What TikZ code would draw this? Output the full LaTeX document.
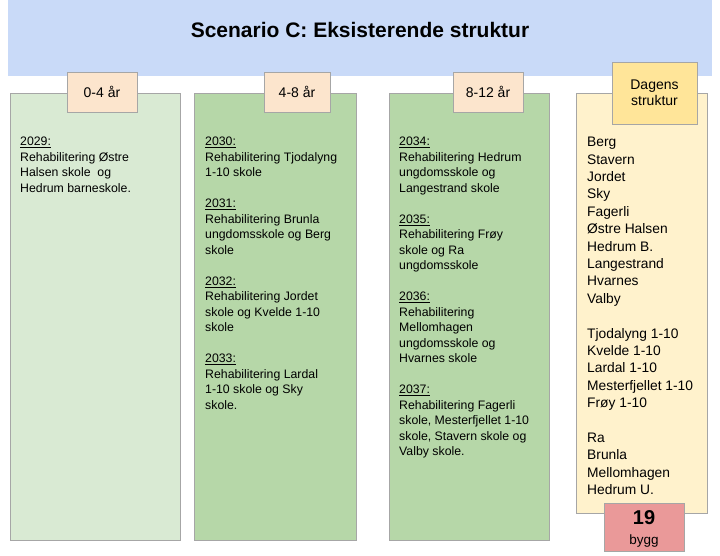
\documentclass[tikz,border=0pt]{standalone}
\usepackage{fontspec}
\setmainfont{Liberation Sans}
\usetikzlibrary{positioning}
\tikzset{
  col/.style={draw=gray!70, line width=0.6pt},
  hdr/.style={draw=gray!70, line width=0.6pt, minimum height=40pt, align=center, font=\fontsize{14}{16}\selectfont},
  body/.style={anchor=north west, align=left, inner sep=0pt, font=\fontsize{12.3}{15.5}\selectfont},
}
\newcommand{\yr}[1]{\underline{#1}}
\begin{document}
\begin{tikzpicture}[x=1pt,y=-1pt]
	\useasboundingbox (0,0) rectangle (720,556);
	% banner
	\fill[fill={rgb,255:red,201;green,218;blue,248}] (8,0) rectangle (712,76);
	\node[font=\bfseries\fontsize{21}{24}\selectfont] (title) at (360,30) {Scenario C: Eksisterende struktur};
	% columns
	\draw[col, fill={rgb,255:red,217;green,234;blue,211}] (10,93) rectangle (180,540);
	\draw[col, fill={rgb,255:red,182;green,215;blue,168}] (194,93) rectangle (356,540);
	\draw[col, fill={rgb,255:red,182;green,215;blue,168}] (389,93) rectangle (549,540);
	\draw[col, fill={rgb,255:red,255;green,242;blue,204}] (576,93) rectangle (707,513);
	% headers
	\node[hdr, fill={rgb,255:red,252;green,229;blue,205}, minimum width=70pt] (h1) at (102,92) {0-4 år};
	\node[hdr, fill={rgb,255:red,252;green,229;blue,205}, minimum width=66pt] (h2) at (297,92) {4-8 år};
	\node[hdr, fill={rgb,255:red,252;green,229;blue,205}, minimum width=70pt] (h3) at (488,92) {8-12 år};
	\node[hdr, fill={rgb,255:red,255;green,229;blue,153}, minimum width=85pt, minimum height=62pt] (h4) at (654.5,93) {Dagens\\struktur};
	% texts
	\node[body] (t1) at (20,137) {\yr{2029:}\\Rehabilitering Østre\\Halsen skole\ \ og\\Hedrum barneskole.};
	\node[body] (t2) at (205,137) {\yr{2030:}\\Rehabilitering Tjodalyng\\1-10 skole\\[15.5pt]
		\yr{2031:}\\Rehabilitering Brunla\\ungdomsskole og Berg\\skole\\[15.5pt]
		\yr{2032:}\\Rehabilitering Jordet\\skole og Kvelde 1-10\\skole\\[15.5pt]
		\yr{2033:}\\Rehabilitering Lardal\\1-10 skole og Sky\\skole.};
	\node[body] (t3) at (399,137) {\yr{2034:}\\Rehabilitering Hedrum\\ungdomsskole og\\Langestrand skole\\[15.5pt]
		\yr{2035:}\\Rehabilitering Frøy\\skole og Ra\\ungdomsskole\\[15.5pt]
		\yr{2036:}\\Rehabilitering\\Mellomhagen\\ungdomsskole og\\Hvarnes skole\\[15.5pt]
		\yr{2037:}\\Rehabilitering Fagerli\\skole, Mesterfjellet 1-10\\skole, Stavern skole og\\Valby skole.};
	\node[body, font=\fontsize{13.8}{17.4}\selectfont] (t4) at (587,137) {Berg\\Stavern\\Jordet\\Sky\\Fagerli\\Østre Halsen\\Hedrum B.\\Langestrand\\Hvarnes\\Valby\\[17.4pt]
		Tjodalyng 1-10\\Kvelde 1-10\\Lardal 1-10\\Mesterfjellet 1-10\\Frøy 1-10\\[17.4pt]
		Ra\\Brunla\\Mellomhagen\\Hedrum U.};
	% count
	\draw[col, fill={rgb,255:red,234;green,153;blue,153}] (604,503) rectangle (684,551);
	\node[font=\bfseries\fontsize{20}{22}\selectfont] (n) at (644,518) {19};
	\node[font=\fontsize{13.5}{15}\selectfont] (bygg) at (644,541) {bygg};
\end{tikzpicture}
\end{document}
